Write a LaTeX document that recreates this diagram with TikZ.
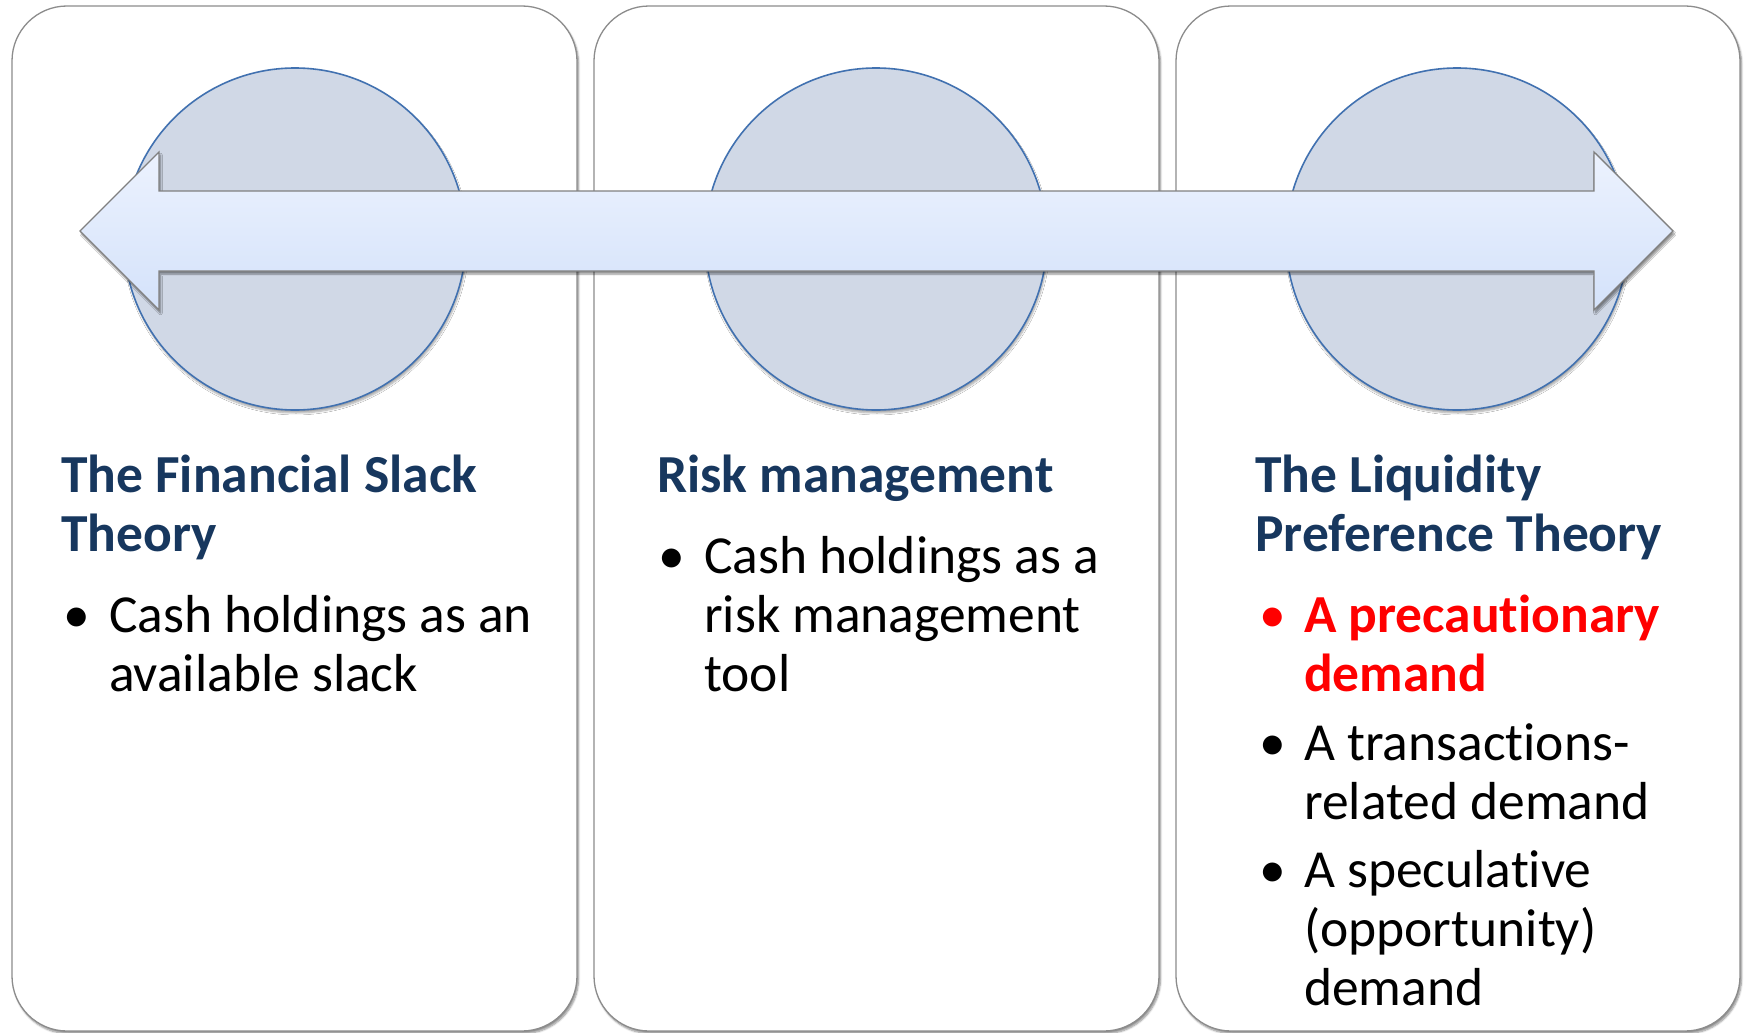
\documentclass[tikz,border=0pt]{standalone}
\usepackage{fontspec}
\setmainfont{Carlito}[Ligatures=NoCommon]
\usetikzlibrary{shadows.blur}
\definecolor{headnavy}{RGB}{23,55,94}
\definecolor{discfill}{RGB}{208,216,230}
\definecolor{discline}{RGB}{65,113,176}
\definecolor{panelline}{RGB}{140,140,140}
\definecolor{arrowtop}{RGB}{236,242,254}
\definecolor{arrowbot}{RGB}{212,226,250}
\definecolor{arrowline}{RGB}{128,128,128}
\newcommand{\txtsize}{\fontsize{53.5}{59}\selectfont}
\begin{document}
\begin{tikzpicture}[x=1pt,y=-1pt,
  panel/.style={draw=panelline, line width=1.3pt, fill=white, rounded corners=55pt,
    blur shadow={shadow xshift=1.5pt, shadow yshift=-2.5pt, shadow blur steps=6, shadow opacity=45}},
  disc/.style={draw=discline, line width=1.6pt, fill=discfill,
    blur shadow={shadow xshift=1pt, shadow yshift=-3pt, shadow blur steps=6, shadow opacity=35}},
  head/.style={anchor=base west, inner sep=0pt, text=headnavy, font=\txtsize\bfseries},
  body/.style={anchor=base west, inner sep=0pt, font=\txtsize},
  dot/.style={anchor=base west, inner sep=0pt, font=\txtsize}]
\useasboundingbox (0,0) rectangle (1745,1033);

% three panels
\path[panel] (12,6) rectangle (577,1031);
\path[panel] (594,6) rectangle (1159,1031);
\path[panel] (1176,6) rectangle (1740,1031);

% discs
\path[disc] (295,239) circle [radius=171];
\path[disc] (876,239) circle [radius=171];
\path[disc] (1457,239) circle [radius=171];

% double-headed arrow
\path[draw=arrowline, line width=1.2pt, line join=miter, top color=arrowtop, bottom color=arrowbot,
  blur shadow={shadow xshift=1.5pt, shadow yshift=-3pt, shadow blur steps=6, shadow opacity=45}]
  (80,231) -- (159,152) -- (159,191) -- (1594,191) -- (1594,152) -- (1673,231)
  -- (1594,310) -- (1594,271) -- (159,271) -- (159,310) -- cycle;

% column 1
\node[head] (h1) at (61,492) {\parbox[t]{500pt}{\raggedright The Financial Slack\\Theory}};
\node[dot] (b1d) at (63,632) {•};
\node[body] (b1) at (109,632) {\parbox[t]{470pt}{\raggedright Cash holdings as an\\available slack}};

% column 2
\node[head] (h2) at (657,492) {\parbox[t]{500pt}{\raggedright Risk management}};
\node[dot] (b2d) at (658,573) {•};
\node[body] (b2) at (704,573) {\parbox[t]{450pt}{\raggedright Cash holdings as a\\risk management\\tool}};

% column 3
\node[head] (h3) at (1255,492) {\parbox[t]{480pt}{\raggedright The Liquidity\\Preference Theory}};
\node[dot, text=red] (b3d) at (1259,632) {•};
\node[body, text=red, font=\txtsize\bfseries] (b3) at (1304,632) {\parbox[t]{430pt}{\raggedright A precautionary\\demand}};
\node[dot] (b4d) at (1259,760) {•};
\node[body] (b4) at (1304,760) {\parbox[t]{430pt}{\raggedright A transactions-\\related demand}};
\node[dot] (b5d) at (1259,887) {•};
\node[body] (b5) at (1304,887) {\parbox[t]{430pt}{\raggedright A speculative\\(opportunity)\\demand}};
\end{tikzpicture}
\end{document}
